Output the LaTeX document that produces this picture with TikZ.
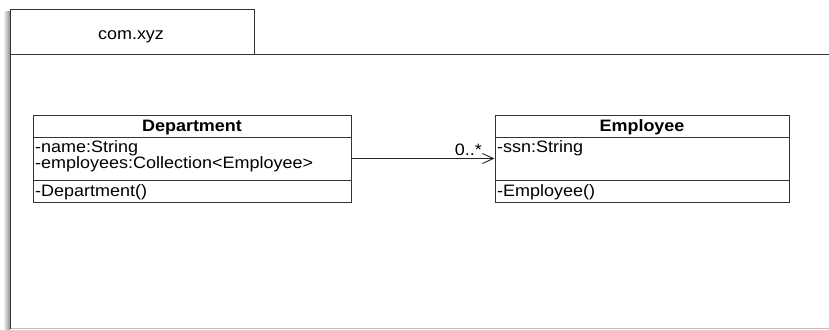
\documentclass[tikz,border=0pt]{standalone}
\usepackage{fontspec}
\setmainfont{Liberation Sans}[FakeStretch=1.09]
\usetikzlibrary{arrows.meta}

\tikzset{
  umlline/.style={draw=black!80, line width=1pt},
  classbox/.style={umlline, fill=white, inner sep=0pt},
  member/.style={anchor=base west, inner sep=0pt, font=\fontsize{16.5}{18}\selectfont},
  classname/.style={anchor=base, inner sep=0pt, font=\fontsize{16.5}{18}\selectfont\bfseries},
  assoc/.style={draw=black!85, line width=0.9pt, -{Straight Barb[length=11pt,width=10pt]}}
}

\begin{document}
\begin{tikzpicture}[x=1pt, y=-1pt]
			\useasboundingbox (0, 0) rectangle (829, 329);

			%%draw the package
			\shade[left color=white, right color=black!45] (3, 12) rectangle (10, 329);
			\draw[black!25, line width=1pt] (10, 328) to (829, 328);
			\draw[umlline] (10, 55) rectangle (254, 10);
				\node[anchor=base, inner sep=0pt, font=\fontsize{16.5}{18}\selectfont] (pkgname) at (131, 40){com.xyz};
			\draw[umlline] (829, 55) to (10, 55) to (10, 329);

			%%draw the classes
			\node[classbox, minimum width=318, minimum height=87] (dept) at (192, 158.5){};
				\draw[umlline] (33, 137) to (351, 137);
				\draw[umlline] (33, 180) to (351, 180);
				\node[classname] (deptname) at (192, 131.5){Department};
				\node[member] (deptattra) at (35, 152){-name:String};
				\node[member] (deptattrb) at (35, 168.5){-employees:Collection<Employee>};
				\node[member] (deptop) at (35, 196){-Department()};

			\node[classbox, minimum width=294, minimum height=87] (emp) at (642, 158.5){};
				\draw[umlline] (495, 137) to (789, 137);
				\draw[umlline] (495, 180) to (789, 180);
				\node[classname] (empname) at (642, 131.5){Employee};
				\node[member] (empattr) at (497, 152){-ssn:String};
				\node[member] (empop) at (497, 196){-Employee()};

			%%draw the association
			\draw[assoc] (dept.east) to (emp.west);
				\node[inner sep=0pt, anchor=base east, font=\fontsize{16.5}{18}\selectfont] (mult) at (482, 155){0..*};
\end{tikzpicture}
\end{document}
